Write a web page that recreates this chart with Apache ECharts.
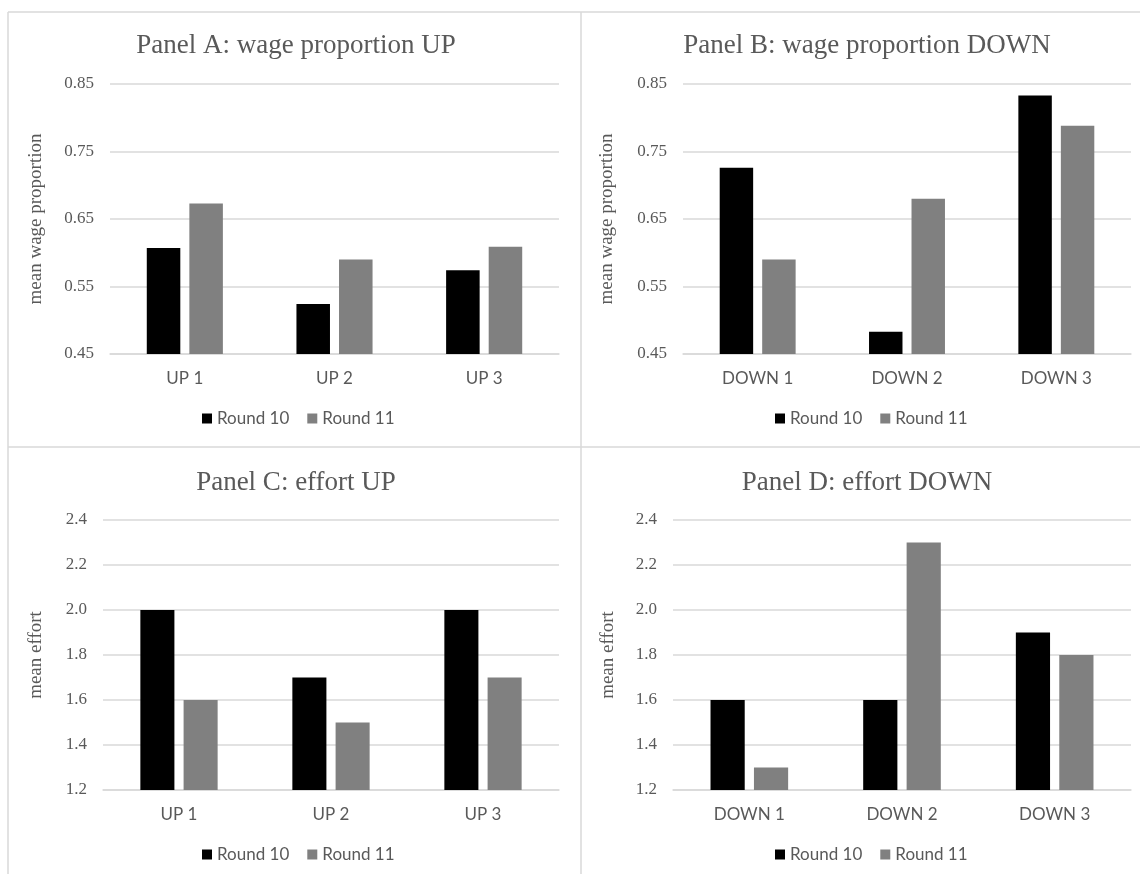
<!DOCTYPE html>
<html>
<head>
<meta charset="utf-8">
<script src="https://cdn.jsdelivr.net/npm/echarts@6/dist/echarts.min.js"></script>
<style>
html,body{margin:0;padding:0;background:#fff;}
#chart{width:1140px;height:874px;}
</style>
</head>
<body>
<div id="chart"></div>
<script>
// ---- data ----
const seriesNames = ['Round 10', 'Round 11'];
const catsUp = ['UP 1', 'UP 2', 'UP 3'];
const catsDown = ['DOWN 1', 'DOWN 2', 'DOWN 3'];

const wageUpR10 = [0.607, 0.524, 0.574];
const wageUpR11 = [0.673, 0.590, 0.609];
const wageDownR10 = [0.726, 0.483, 0.833];
const wageDownR11 = [0.590, 0.680, 0.788];

const effortUpR10 = [2.0, 1.7, 2.0];
const effortUpR11 = [1.6, 1.5, 1.7];
const effortDownR10 = [1.6, 1.6, 1.9];
const effortDownR11 = [1.3, 2.3, 1.8];

const wageTicks = [0.45, 0.55, 0.65, 0.75, 0.85];
const effortTicks = [1.2, 1.4, 1.6, 1.8, 2.0, 2.2, 2.4];

const titles = ['Panel A: wage proportion UP', 'Panel B: wage proportion DOWN', 'Panel C: effort UP', 'Panel D: effort DOWN'];
const yNames = ['mean wage proportion', 'mean wage proportion', 'mean effort', 'mean effort'];

// ---- layout ----
const grids = [
  {left: 110, top: 84, width: 449, height: 270},
  {left: 683, top: 84, width: 448, height: 270},
  {left: 103, top: 520, width: 456, height: 270},
  {left: 673, top: 520, width: 458, height: 270}
];
const nameGaps = [64, 66, 57, 55];
const titleCenters = [[296, 47], [867, 47], [296, 484], [867, 484]];
const legendCenters = [[298, 420], [871, 420], [298, 856], [871, 856]];
const textGray = '#595959';
const lineGray = '#d9d9d9';
const colors = ['#000000', '#808080'];
const legendFont = '17px Lato';
const legendIcon = 10, legendIconGap = 5, legendItemGap = 18;

const panelCats = [catsUp, catsDown, catsUp, catsDown];
const panelData = [
  [wageUpR10, wageUpR11], [wageDownR10, wageDownR11],
  [effortUpR10, effortUpR11], [effortDownR10, effortDownR11]
];
const panelTicks = [wageTicks, wageTicks, effortTicks, effortTicks];
const panelDigits = [2, 2, 1, 1];

// measure legend width to center it on the panel
const ctx = document.createElement('canvas').getContext('2d');
ctx.font = legendFont;
let legendW = legendItemGap;
seriesNames.forEach(n => { legendW += legendIcon + legendIconGap + ctx.measureText(n).width; });

const option = {
  animation: false,
  backgroundColor: '#ffffff',
  title: titles.map((t, i) => ({
    text: t, padding: 0,
    left: titleCenters[i][0], top: titleCenters[i][1] - 15,
    textAlign: 'center',
    textStyle: {fontFamily: 'Liberation Serif', fontSize: 27, fontWeight: 'normal', color: textGray}
  })),
  legend: [0, 1, 2, 3].map(i => ({
    data: seriesNames.map(n => ({name: n})),
    padding: 0,
    left: Math.round(legendCenters[i][0] - legendW / 2), top: legendCenters[i][1] - 10,
    icon: 'rect', itemWidth: legendIcon, itemHeight: legendIcon, itemGap: legendItemGap,
    textStyle: {fontFamily: 'Lato', fontSize: 17, color: textGray},
    selectedMode: false
  })),
  grid: grids.map(g => Object.assign({containLabel: false}, g)),
  xAxis: [0, 1, 2, 3].map(i => ({
    type: 'category', gridIndex: i, data: panelCats[i],
    axisLine: {show: true, lineStyle: {color: lineGray, width: 1.5}},
    axisTick: {show: false},
    axisLabel: {fontFamily: 'Lato', fontSize: 17, color: textGray, margin: 16}
  })),
  yAxis: [0, 1, 2, 3].map(i => ({
    type: 'value', gridIndex: i,
    min: panelTicks[i][0], max: panelTicks[i][panelTicks[i].length - 1],
    name: yNames[i], nameLocation: 'middle', nameGap: nameGaps[i], nameRotate: 90,
    nameTextStyle: {fontFamily: 'Liberation Serif', fontSize: 19, color: textGray},
    axisLine: {show: false},
    axisTick: {show: false, customValues: panelTicks[i]},
    axisLabel: {
      customValues: panelTicks[i],
      fontFamily: 'Liberation Serif', fontSize: 17, color: textGray, margin: 16,
      formatter: v => Number(v).toFixed(panelDigits[i])
    },
    splitLine: {show: true, lineStyle: {color: lineGray, width: 1.5}}
  })),
  series: [],
  graphic: [
    {type: 'line', shape: {x1: 8, y1: 12, x2: 1140, y2: 12}, style: {stroke: lineGray, lineWidth: 1.5}, silent: true},
    {type: 'line', shape: {x1: 8, y1: 12, x2: 8, y2: 874}, style: {stroke: lineGray, lineWidth: 1.5}, silent: true},
    {type: 'line', shape: {x1: 581, y1: 12, x2: 581, y2: 874}, style: {stroke: lineGray, lineWidth: 1.5}, silent: true},
    {type: 'line', shape: {x1: 8, y1: 447, x2: 1140, y2: 447}, style: {stroke: lineGray, lineWidth: 1.5}, silent: true}
  ]
};

for (let i = 0; i < 4; i++) {
  for (let s = 0; s < 2; s++) {
    option.series.push({
      type: 'bar', name: seriesNames[s],
      xAxisIndex: i, yAxisIndex: i,
      data: panelData[i][s],
      barWidth: '22.4%', barGap: '27%',
      itemStyle: {color: colors[s]}
    });
  }
}

const chart = echarts.init(document.getElementById('chart'), null, {renderer: 'canvas'});
chart.setOption(option);
</script>
</body>
</html>
